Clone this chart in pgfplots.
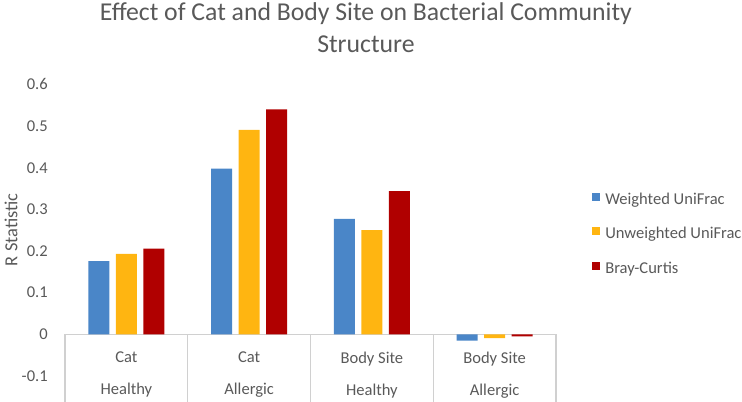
\documentclass[border=0pt]{standalone}
\usepackage{pgfplots}
\pgfplotsset{compat=1.18}
\usepackage{fontspec}
\setmainfont{Carlito}

\definecolor{wuni}{HTML}{4A86C8}
\definecolor{uuni}{HTML}{FFB511}
\definecolor{bray}{HTML}{B00000}
\definecolor{txt}{HTML}{595959}
\definecolor{rulegray}{HTML}{D0D0D0}

\begin{document}
\begin{tikzpicture}
\useasboundingbox (0,0) rectangle (556.5pt,300.75pt);
\begin{axis}[
    at={(48.75pt,0pt)}, anchor=south west,
    scale only axis, width=368.25pt, height=253.1pt,
    xmin=-0.5, xmax=3.5, ymin=-0.16, ymax=0.65,
    axis x line=middle, axis y line=left,
    axis line style={-, draw=rulegray, line width=0.8pt},
    y axis line style={draw=none},
    hide obscured x ticks=false, hide obscured y ticks=false,
    xtick={0,1,2,3},
    xticklabels={{Cat\\Healthy},{Cat\\Allergic},{Body Site\\Healthy},{Body Site\\Allergic}},
    minor xtick={-0.5,0.5,1.5,2.5,3.5},
    xtick align=outside,
    major tick length=0pt,
    minor tick length=50.5pt,
    minor tick style={draw=rulegray, line width=0.8pt},
    ytick={-0.1,0,0.1,0.2,0.3,0.4,0.5,0.6},
    /pgf/number format/assume math mode=true,
    yticklabel style={anchor=east, inner sep=0pt, xshift=-12.75pt,
        font=\fontsize{12.4}{15}\selectfont, text=txt},
    xticklabel style={align=center, anchor=north, inner sep=0pt, yshift=-13pt,
        font=\fontsize{12.4}{24}\selectfont, text=txt},
    ylabel={R Statistic},
    every axis y label/.style={at={(axis description cs:-0.110,0.507)},
        anchor=center, rotate=90, font=\fontsize{13.8}{16}\selectfont, text=txt},
    title={Effect of Cat and Body Site on Bacterial Community\\Structure},
    title style={at={(axis description cs:0.613,1.157)}, anchor=north, yshift=0pt,
        align=center, inner sep=0pt, font=\fontsize{19.3}{24}\selectfont, text=txt},
    legend style={at={(axis description cs:1.0733,0.618)}, anchor=north west,
        draw=none, fill=none, inner sep=0pt, row sep=14.7pt,
        font=\fontsize{12.4}{15}\selectfont, text=txt,
        nodes={inner sep=0pt, text height=8.5pt, text depth=2.8pt},
        /tikz/every odd column/.style={column sep=3.75pt}},
    legend cell align=left,
]

\addplot[ybar, bar width=0.171, bar shift=-0.224, fill=wuni, draw=none,
    legend image code/.code={\fill[wuni] (0pt,-0.3pt) rectangle (6pt,5.7pt);}]
    coordinates {(0,0.176) (1,0.398) (2,0.277) (3,-0.015)};

\addplot[ybar, bar width=0.171, bar shift=0, fill=uuni, draw=none,
    legend image code/.code={\fill[uuni] (0pt,-0.3pt) rectangle (6pt,5.7pt);}]
    coordinates {(0,0.193) (1,0.491) (2,0.250) (3,-0.009)};

\addplot[ybar, bar width=0.171, bar shift=0.224, fill=bray, draw=none,
    legend image code/.code={\fill[bray] (0pt,-0.3pt) rectangle (6pt,5.7pt);}]
    coordinates {(0,0.206) (1,0.540) (2,0.344) (3,-0.005)};

\legend{Weighted UniFrac, Unweighted UniFrac, Bray-Curtis}
\end{axis}
\end{tikzpicture}
\end{document}
